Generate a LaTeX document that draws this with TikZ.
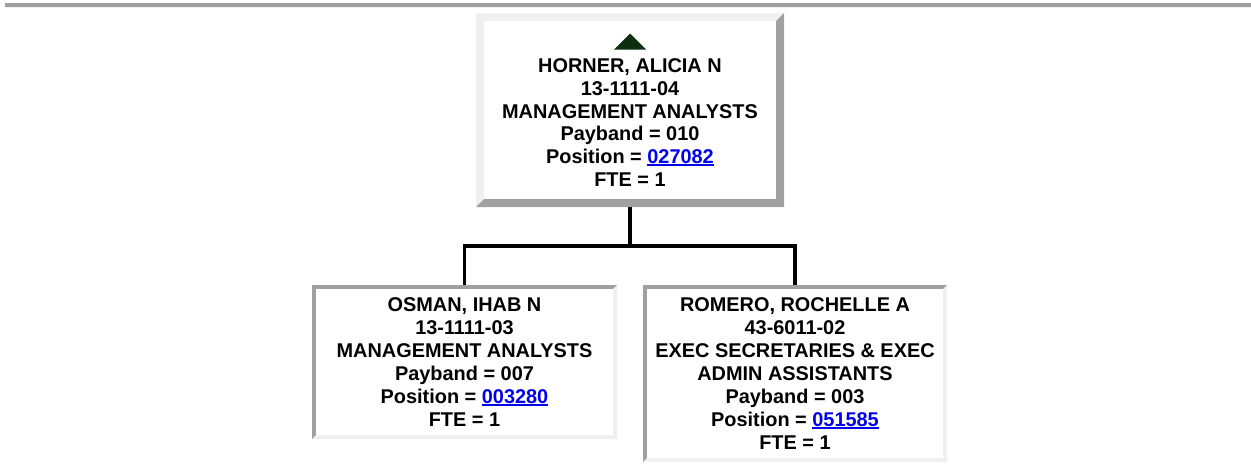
\documentclass[tikz,border=0pt]{standalone}
\usepackage{fontspec}
\setmainfont{Liberation Sans}
\definecolor{darkg}{HTML}{A0A0A0}
\definecolor{lightg}{HTML}{F0F0F0}
\definecolor{linkblue}{RGB}{0,0,238}
\definecolor{trigreen}{HTML}{0D2F0D}
\newcommand\poslink[1]{\textcolor{linkblue}{\setbox0\hbox{#1}\rlap{\rule[-2.6pt]{\wd0}{1.9pt}}\box0}}
\begin{document}
\begin{tikzpicture}[x=1pt,y=-1pt,
  txt/.style={align=center,inner sep=0pt,font=\fontsize{19.9pt}{22.85pt}\selectfont\bfseries},
  outbox/.style={txt,fill=lightg,path picture={
    \fill[darkg] (path picture bounding box.north east) -- (path picture bounding box.south east)
      -- (path picture bounding box.south west) -- ++(8pt,8pt)
      -| ([shift={(-8pt,-8pt)}]path picture bounding box.north east) -- cycle;
    \fill[white] ([shift={(8pt,-8pt)}]path picture bounding box.north west) rectangle ([shift={(-8pt,8pt)}]path picture bounding box.south east);
  }},
  inbox/.style={txt,fill=darkg,path picture={
    \fill[lightg] (path picture bounding box.south west) -- (path picture bounding box.south east)
      -- (path picture bounding box.north east) -- ++(-4pt,-4pt)
      |- ([shift={(4pt,4pt)}]path picture bounding box.south west) -- cycle;
    \fill[white] ([shift={(4pt,-4pt)}]path picture bounding box.north west) rectangle ([shift={(-4pt,4pt)}]path picture bounding box.south east);
  }},
  conn/.style={line width=3.5pt,black,line join=miter}
]
\useasboundingbox[fill=white] (0,0) rectangle (1251,466);
% horizontal rule
\fill[darkg] (5,3.3) rectangle (1251,6.9);
\fill[lightg] (5,6.9) rectangle (1251,7.8);

\node[outbox,minimum width=308pt,minimum height=194pt] (top) at (630,110)
  {\rule{0pt}{16pt}\\HORNER, ALICIA N\\13-1111-04\\MANAGEMENT ANALYSTS\\Payband = 010\\Position = \poslink{027082}\\FTE = 1};
\fill[trigreen] (614,49.5) -- (630,33.5) -- (646,49.5) -- cycle;

\node[inbox,minimum width=305pt,minimum height=154pt] (osman) at (464.5,362)
  {OSMAN, IHAB N\\13-1111-03\\MANAGEMENT ANALYSTS\\Payband = 007\\Position = \poslink{003280}\\FTE = 1};

\node[inbox,minimum width=304pt,minimum height=177pt] (romero) at (795,373.5)
  {ROMERO, ROCHELLE A\\43-6011-02\\EXEC SECRETARIES \& EXEC\\ADMIN ASSISTANTS\\Payband = 003\\Position = \poslink{051585}\\FTE = 1};

\coordinate (bus) at (630,246);
\draw[conn] (top.south) -- (bus);
\draw[conn] (osman.north) |- (bus) -| (romero.north);
\end{tikzpicture}
\end{document}
